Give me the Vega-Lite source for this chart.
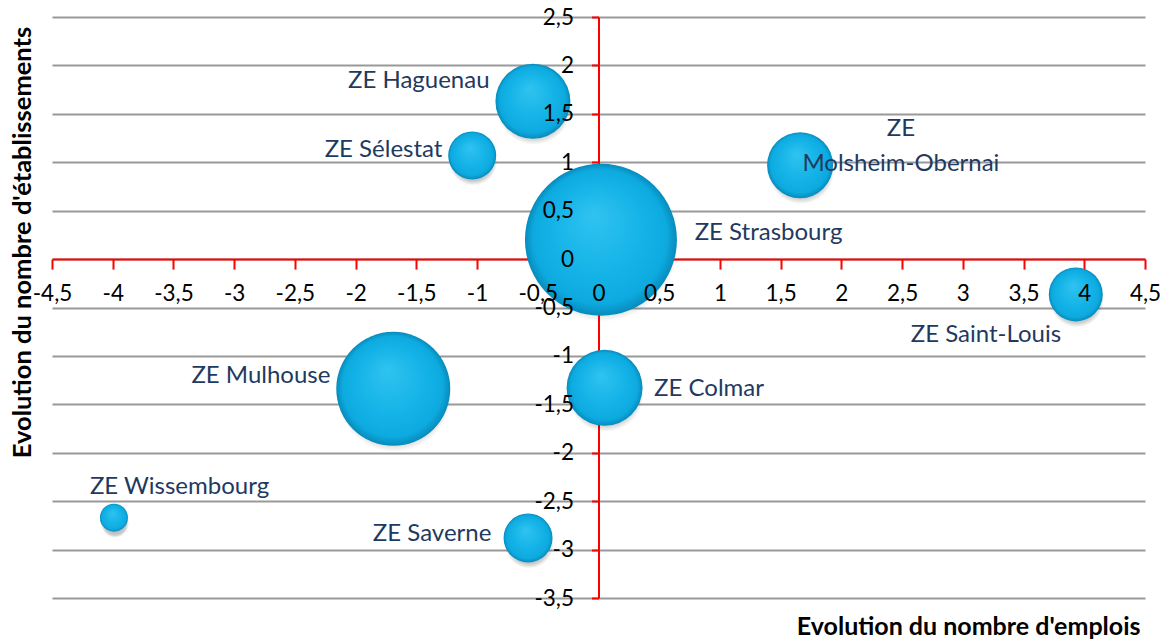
{
  "$schema": "https://vega.github.io/schema/vega-lite/v6.json",
  "width": 1093,
  "height": 581,
  "autosize": {"type": "none"},
  "padding": {"left": 52, "top": 17, "right": 27, "bottom": 43},
  "background": "white",
  "config": {"view": {"stroke": null}, "font": "Lato"},
  "data": {
    "values": [
      {"ze": "ZE Strasbourg", "emplois": 0.02, "etab": 0.2, "poids": 5776, "lx": 1.40, "ly": 0.27},
      {"ze": "ZE Mulhouse", "emplois": -1.69, "etab": -1.34, "poids": 3249, "lx": -2.78, "ly": -1.21},
      {"ze": "ZE Colmar", "emplois": 0.05, "etab": -1.33, "poids": 1444, "lx": 0.91, "ly": -1.34},
      {"ze": "ZE Haguenau", "emplois": -0.54, "etab": 1.63, "poids": 1406, "lx": -1.48, "ly": 1.84},
      {"ze": "ZE\nMolsheim-Obernai", "emplois": 1.66, "etab": 0.97, "poids": 1089, "lx": 2.49, "ly": 1.345},
      {"ze": "ZE Saint-Louis", "emplois": 3.93, "etab": -0.365, "poids": 729, "lx": 3.19, "ly": -0.78},
      {"ze": "ZE Saverne", "emplois": -0.58, "etab": -2.88, "poids": 600, "lx": -1.37, "ly": -2.84},
      {"ze": "ZE Sélestat", "emplois": -1.04, "etab": 1.07, "poids": 576, "lx": -1.77, "ly": 1.13},
      {"ze": "ZE Wissembourg", "emplois": -3.99, "etab": -2.67, "poids": 196, "lx": -3.45, "ly": -2.35}
    ]
  },
  "resolve": {"axis": {"x": "independent", "y": "independent"}},
  "layer": [
    {
      "mark": {
        "type": "point", "shape": "circle", "filled": true, "opacity": 1, "yOffset": 6, "xOffset": 1,
        "fill": {"gradient": "radial", "x1": 0.5, "y1": 0.5, "x2": 0.5, "y2": 0.5, "r1": 0, "r2": 0.5,
          "stops": [{"offset": 0, "color": "rgba(0,0,0,0.35)"}, {"offset": 0.8, "color": "rgba(0,0,0,0.22)"}, {"offset": 1, "color": "rgba(0,0,0,0)"}]}
      },
      "encoding": {
        "x": {"field": "emplois", "type": "quantitative",
          "scale": {"domain": [-4.5, 4.5], "nice": false, "zero": false},
          "axis": {"orient": "bottom", "offset": 0, "labels": false, "ticks": false, "domain": false, "grid": false,
            "title": "Evolution du nombre d'emplois", "titleFont": "Lato", "titleFontWeight": "bold", "titleFontSize": 25, "titleColor": "#000000",
            "titleAnchor": "end", "titleAlign": "right", "titleX": 1088, "titleY": 28, "titleBaseline": "middle", "zindex": 0}},
        "y": {"field": "etab", "type": "quantitative",
          "scale": {"domain": [-3.5, 2.5], "nice": false, "zero": false},
          "axis": {"orient": "left", "offset": 0, "labels": false, "ticks": false, "domain": false,
            "grid": true, "gridColor": "#999999", "gridWidth": 1.8, "gridOpacity": 1,
            "values": [-3.5, -3, -2.5, -2, -1.5, -1, -0.5, 0, 0.5, 1, 1.5, 2, 2.5],
            "title": "Evolution du nombre d'établissements", "titleFont": "Lato", "titleFontWeight": "bold", "titleFontSize": 25.5, "titleColor": "#000000",
            "titleX": -30, "titleY": 225, "titleAlign": "center", "titleBaseline": "middle", "titleAngle": -90, "zindex": 0}},
        "size": {"field": "poids", "type": "quantitative", "scale": {"type": "linear", "domain": [0, 5776], "range": [0, 23104], "zero": true}, "legend": null}
      }
    },
    {
      "mark": {
        "type": "point", "shape": "circle", "filled": true, "opacity": 1, "strokeWidth": 0,
        "fill": {"gradient": "radial", "x1": 0.45, "y1": 0.33, "x2": 0.5, "y2": 0.5, "r1": 0, "r2": 0.5,
          "stops": [{"offset": 0, "color": "#30c3f0"}, {"offset": 0.6, "color": "#14b3e7"}, {"offset": 0.88, "color": "#0daae0"}, {"offset": 1, "color": "#078bbb"}]}
      },
      "encoding": {
        "x": {"field": "emplois", "type": "quantitative",
          "axis": {"orient": "bottom", "offset": -338.9, "labels": false, "grid": false, "title": null,
            "domain": true, "domainColor": "#ff0000", "domainWidth": 2,
            "ticks": true, "tickColor": "#ff0000", "tickWidth": 2, "tickSize": 10,
            "values": [-4.5, -4, -3.5, -3, -2.5, -2, -1.5, -1, -0.5, 0, 0.5, 1, 1.5, 2, 2.5, 3, 3.5, 4, 4.5], "zindex": 0}},
        "y": {"field": "etab", "type": "quantitative",
          "axis": {"orient": "left", "offset": -546.5, "labels": false, "grid": false, "title": null,
            "domain": true, "domainColor": "#ff0000", "domainWidth": 2,
            "ticks": true, "tickColor": "#ff0000", "tickWidth": 2, "tickSize": 7,
            "values": [-3.5, -3, -2.5, -2, -1.5, -1, -0.5, 0, 0.5, 1, 1.5, 2, 2.5], "zindex": 0}},
        "size": {"field": "poids", "type": "quantitative", "legend": null}
      }
    },
    {
      "mark": {"type": "text", "font": "Lato", "fontSize": 24, "color": "#1f3a60", "align": "center", "baseline": "middle", "lineBreak": "\n", "lineHeight": 35},
      "encoding": {
        "x": {"field": "lx", "type": "quantitative",
          "axis": {"orient": "bottom", "offset": -338.9, "labels": true, "grid": false, "title": null,
            "domain": false, "ticks": false, "tickSize": 10, "labelPadding": 23,
            "labelFlush": false, "labelOverlap": false, "labelBound": false,
            "labelFont": "Lato", "labelFontSize": 22.5, "labelColor": "#000000", "labelBaseline": "top", "labelAlign": "center",
            "labelExpr": "replace(toString(datum.value), '.', ',')",
            "values": [-4.5, -4, -3.5, -3, -2.5, -2, -1.5, -1, -0.5, 0, 0.5, 1, 1.5, 2, 2.5, 3, 3.5, 4, 4.5], "zindex": 2}},
        "y": {"field": "ly", "type": "quantitative",
          "axis": {"orient": "left", "offset": -546.5, "labels": true, "grid": false, "title": null,
            "domain": false, "ticks": false, "tickSize": 7, "labelPadding": 25,
            "labelFlush": false, "labelOverlap": false, "labelBound": false,
            "labelFont": "Lato", "labelFontSize": 22.5, "labelColor": "#000000", "labelBaseline": "middle",
            "labelExpr": "replace(toString(datum.value), '.', ',')",
            "values": [-3.5, -3, -2.5, -2, -1.5, -1, -0.5, 0, 0.5, 1, 1.5, 2, 2.5], "zindex": 2}},
        "text": {"field": "ze", "type": "nominal"}
      }
    }
  ]
}
